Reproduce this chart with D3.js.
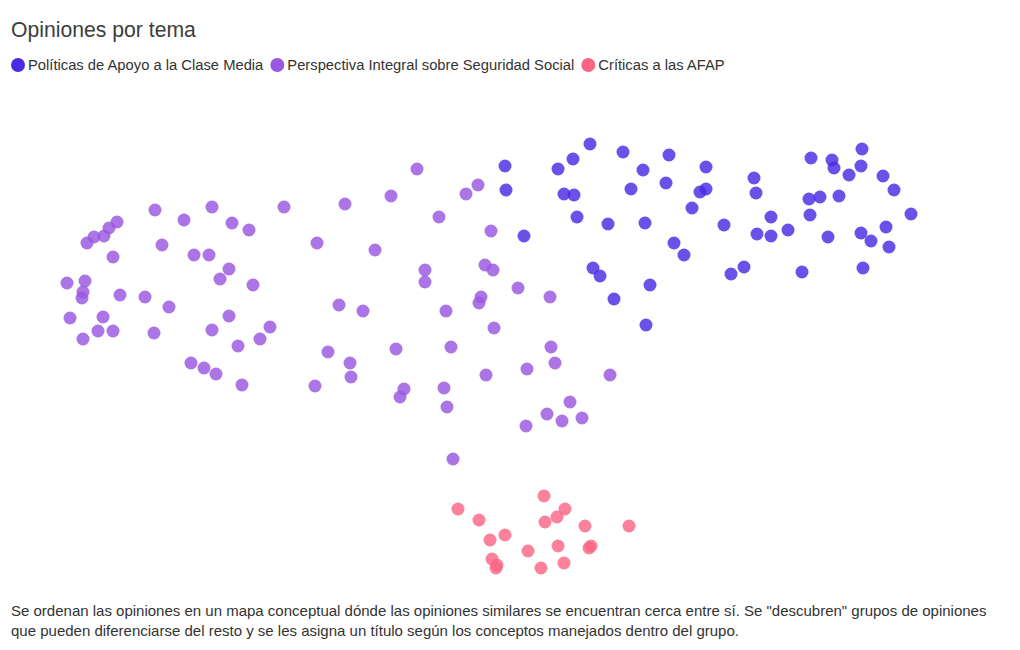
<!DOCTYPE html>
<html><head><meta charset="utf-8">
<script src="https://cdn.jsdelivr.net/npm/d3@7"></script>
<style>
html,body{margin:0;padding:0;background:#fff;}
svg{display:block;}
</style></head>
<body>
<script>
// ---- DATA (map coordinates of each opinion in the conceptual map) ----
const categories = ["Políticas de Apoyo a la Clase Media", "Perspectiva Integral sobre Seguridad Social", "Críticas a las AFAP"];
const colors = ["#4a2be3", "#9a57e0", "#fb6584"];
const titleText = "Opiniones por tema";
const footerLines = [
  'Se ordenan las opiniones en un mapa conceptual dónde las opiniones similares se encuentran cerca entre sí. Se "descubren" grupos de opiniones',
  'que pueden diferenciarse del resto y se les asigna un título según los conceptos manejados dentro del grupo.'
];
const apoyoX = [505,506,524,558,573,590,564,574,577,608,623,643,631,645,669,666,706,700,706,692,674,684,724,593,600,614,650,646,731,744,754,756,771,757,771,788,802,811,832,834,849,862,861,883,894,911,809,820,839,810,828,861,886,871,889,863];
const apoyoY = [166,190,236,169,159,144,194,195,217,224,152,170,189,223,155,183,167,192,189,208,243,255,225,268,276,299,285,325,274,267,178,193,217,234,236,230,272,158,160,168,175,149,166,176,190,214,199,197,196,215,237,233,227,241,247,268];
const integralX = [155,212,284,184,232,249,117,109,104,94,87,162,113,194,209,229,220,253,67,85,83,82,120,145,169,70,103,98,113,83,154,212,229,270,260,238,191,204,216,242,345,391,417,466,478,439,491,317,375,425,425,485,493,518,550,481,479,339,363,446,494,328,396,451,350,351,315,551,555,527,486,610,404,400,444,447,570,547,562,582,526,453];
const integralY = [210,207,207,220,223,230,222,228,236,237,243,245,257,255,255,269,279,285,283,281,292,298,295,297,307,318,317,331,331,339,333,330,316,327,339,346,363,368,374,385,204,196,169,194,185,217,231,243,250,270,282,265,270,288,297,297,303,305,311,311,328,352,349,347,363,377,386,347,363,369,375,375,389,397,388,407,402,414,421,418,426,459];
const afapX = [458,479,490,505,492,497,496,544,565,557,545,585,629,528,558,591,589,541,564];
const afapY = [509,520,540,535,559,565,568,496,509,517,522,526,526,551,546,546,548,568,563];

const seriesX = [apoyoX, integralX, afapX];
const seriesY = [apoyoY, integralY, afapY];

// ---- CHART ----
const W = 1020, H = 650;
const FONT = "'Liberation Sans Narrow', 'Liberation Sans', Arial, sans-serif";
const svg = d3.select("body").append("svg").attr("width", W).attr("height", H);

const x = d3.scaleLinear().domain([0, 1020]).range([0, W]);
const y = d3.scaleLinear().domain([0, 650]).range([0, H]);

svg.append("text").attr("x", 11).attr("y", 37)
  .attr("font-family", FONT).attr("font-size", 21.2).attr("fill", "#3d3d3d")
  .text(titleText);

// legend
const lg = svg.append("g");
let lx = 11;
categories.forEach((c, i) => {
  lg.append("circle").attr("cx", lx + 7).attr("cy", 65).attr("r", 7).attr("fill", colors[i]);
  const t = lg.append("text").attr("x", lx + 17).attr("y", 70)
    .attr("font-family", FONT).attr("font-size", 14.75).attr("fill", "#333").text(c);
  lx += 17 + t.node().getComputedTextLength() + 7;
});

// points
categories.forEach((c, i) => {
  const pts = seriesX[i].map((v, j) => ({x: v, y: seriesY[i][j]}));
  svg.append("g").selectAll("circle").data(pts).join("circle")
    .attr("cx", d => x(d.x)).attr("cy", d => y(d.y)).attr("r", 6.5)
    .attr("fill", colors[i]).attr("fill-opacity", 0.82);
});

// footer
footerLines.forEach((l, i) => {
  svg.append("text").attr("x", 11).attr("y", 616 + i * 20)
    .attr("font-family", FONT).attr("font-size", 15).attr("fill", "#333").text(l);
});
</script>
</body></html>
